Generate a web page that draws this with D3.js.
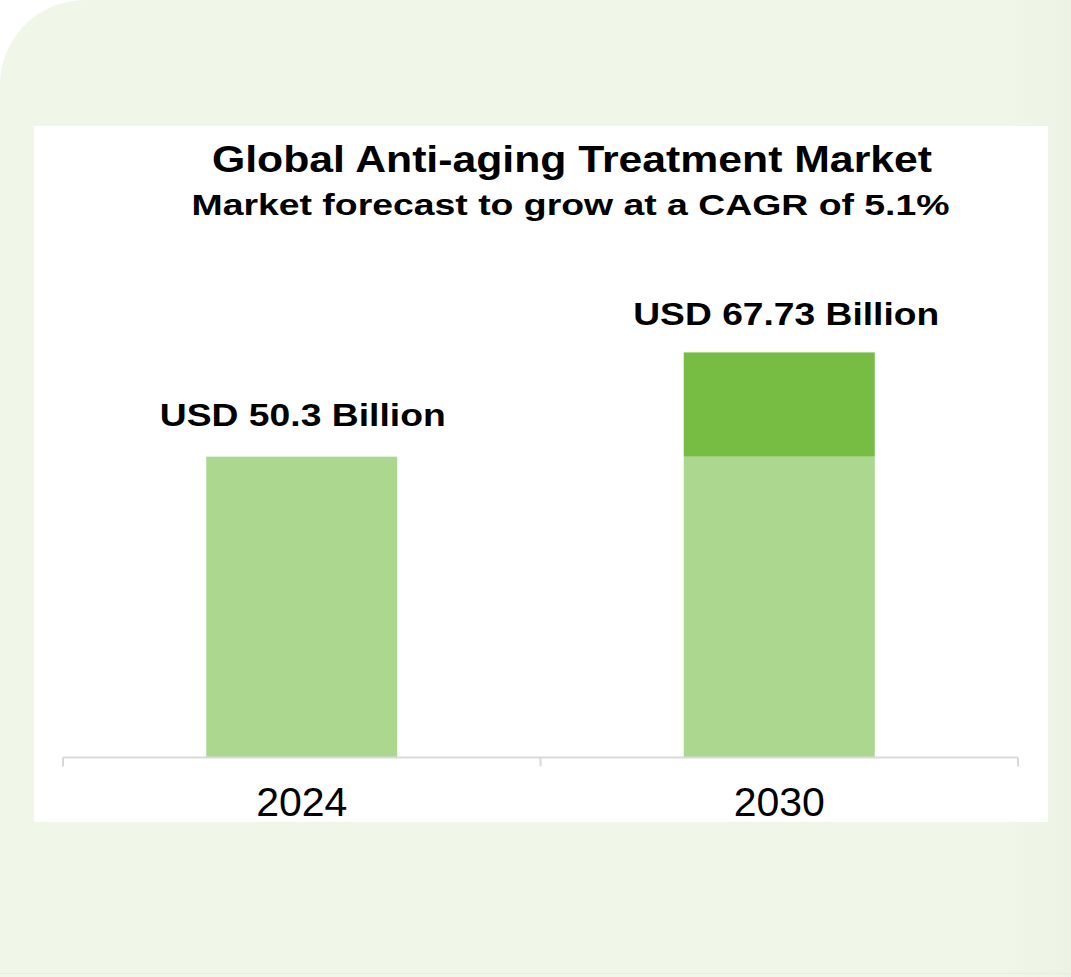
<!DOCTYPE html>
<html>
<head>
<meta charset="utf-8">
<script src="https://cdn.jsdelivr.net/npm/d3@7"></script>
<style>
  html, body { margin: 0; padding: 0; background: #ffffff; }
  svg { display: block; }
  text { font-family: "Liberation Sans", Arial, Helvetica, sans-serif; fill: #000; }
</style>
</head>
<body>
<div id="chart"></div>
<script>
// Market size by year (USD billion)
const years = ["2024", "2030"];
const baseValues = [50.3, 50.3];      // 2024 market size carried into each bar
const growthValues = [0, 17.43];      // added growth up to each year
const totalValues = [50.3, 67.73];    // stated market size
const valueLabels = ["USD 50.3 Billion", "USD 67.73 Billion"];
const titleText = "Global Anti-aging Treatment Market";
const subtitleText = "Market forecast to grow at a CAGR of 5.1%";

const W = 1071, H = 977;
const svg = d3.select("#chart").append("svg")
  .attr("width", W).attr("height", H);

// card background with rounded top-left corner
svg.append("rect")
  .attr("x", 0).attr("y", 0)
  .attr("width", W + 200).attr("height", H + 200)
  .attr("rx", 85).attr("ry", 85)
  .attr("fill", "#f0f6e8");

// soft shading along the right edge
const shade = svg.append("defs").append("linearGradient")
  .attr("id", "edgeShade").attr("x1", 0).attr("x2", 1).attr("y1", 0).attr("y2", 0);
shade.append("stop").attr("offset", "0%").attr("stop-color", "#f0f6e8");
shade.append("stop").attr("offset", "100%").attr("stop-color", "#ecf3e4");
svg.append("rect")
  .attr("x", 1000).attr("y", 0).attr("width", 71).attr("height", H)
  .attr("fill", "url(#edgeShade)");

// bottom edge line
svg.append("line")
  .attr("x1", 0).attr("x2", W).attr("y1", 973.5).attr("y2", 973.5)
  .attr("stroke", "#e6eedd").attr("stroke-width", 1);

// white chart panel
svg.append("rect")
  .attr("x", 34).attr("y", 126)
  .attr("width", 1014).attr("height", 696)
  .attr("fill", "#ffffff");

// scales
const plot = { left: 63, right: 1018, bottom: 757.5, top: 279 };
const x = d3.scaleBand()
  .domain(years)
  .range([plot.left, plot.right])
  .paddingInner(0.6)
  .paddingOuter(0.3);
const y = d3.scaleLinear()
  .domain([0, 80])
  .range([plot.bottom, plot.top]);

// stacked series
const rows = years.map((yr, i) => ({ year: yr, base: baseValues[i], growth: growthValues[i] }));
const stack = d3.stack().keys(["base", "growth"]);
const series = stack(rows);
const colors = { base: "#acd78e", growth: "#77bc43" };

svg.append("g").selectAll("g")
  .data(series)
  .join("g")
  .attr("fill", d => colors[d.key])
  .selectAll("rect")
  .data(d => d.filter(p => p[1] - p[0] > 0))
  .join("rect")
  .attr("x", d => x(d.data.year))
  .attr("width", x.bandwidth())
  .attr("y", d => y(d[1]))
  .attr("height", d => y(d[0]) - y(d[1]));

// category axis: baseline with ticks at category boundaries
const step = x.step();
const x0 = plot.left;
const boundaries = d3.range(years.length + 1).map(i => x0 + i * step);
const axisG = svg.append("g").attr("class", "x-axis");
axisG.append("line")
  .attr("x1", plot.left).attr("x2", plot.right)
  .attr("y1", plot.bottom).attr("y2", plot.bottom)
  .attr("stroke", "#d9d9d9").attr("stroke-width", 2);
axisG.selectAll("line.tick")
  .data(boundaries)
  .join("line")
  .attr("class", "tick")
  .attr("x1", d => d).attr("x2", d => d)
  .attr("y1", plot.bottom).attr("y2", plot.bottom + 9)
  .attr("stroke", "#d9d9d9").attr("stroke-width", 2);

// year labels
const xAxis = d3.axisBottom(x).tickSize(0).tickPadding(0);
const yearAxis = svg.append("g")
  .attr("transform", `translate(0,${plot.bottom})`)
  .call(xAxis);
yearAxis.select(".domain").remove();
yearAxis.selectAll("text")
  .attr("y", 58.5)
  .attr("dy", null)
  .style("font-family", '"Liberation Sans", Arial, sans-serif')
  .style("font-size", "41px")
  .attr("fill", "#000");

// value labels above bars
const labelShift = [{ dx: 1, dy: -31 }, { dx: 7, dy: -27 }];
svg.append("g").selectAll("text")
  .data(years)
  .join("text")
  .attr("x", (d, i) => x(d) + x.bandwidth() / 2 + labelShift[i].dx)
  .attr("y", (d, i) => y(totalValues[i]) + labelShift[i].dy)
  .attr("text-anchor", "middle")
  .attr("font-weight", "bold")
  .attr("font-size", 31.5)
  .attr("textLength", (d, i) => i === 0 ? 286 : 306)
  .attr("lengthAdjust", "spacingAndGlyphs")
  .text((d, i) => valueLabels[i]);

// titles
svg.append("text")
  .attr("x", 572).attr("y", 172)
  .attr("text-anchor", "middle")
  .attr("font-weight", "bold").attr("font-size", 37.5)
  .attr("textLength", 720).attr("lengthAdjust", "spacingAndGlyphs")
  .text(titleText);
svg.append("text")
  .attr("x", 570.5).attr("y", 215)
  .attr("text-anchor", "middle")
  .attr("font-weight", "bold").attr("font-size", 30)
  .attr("textLength", 758).attr("lengthAdjust", "spacingAndGlyphs")
  .text(subtitleText);
</script>
</body>
</html>
